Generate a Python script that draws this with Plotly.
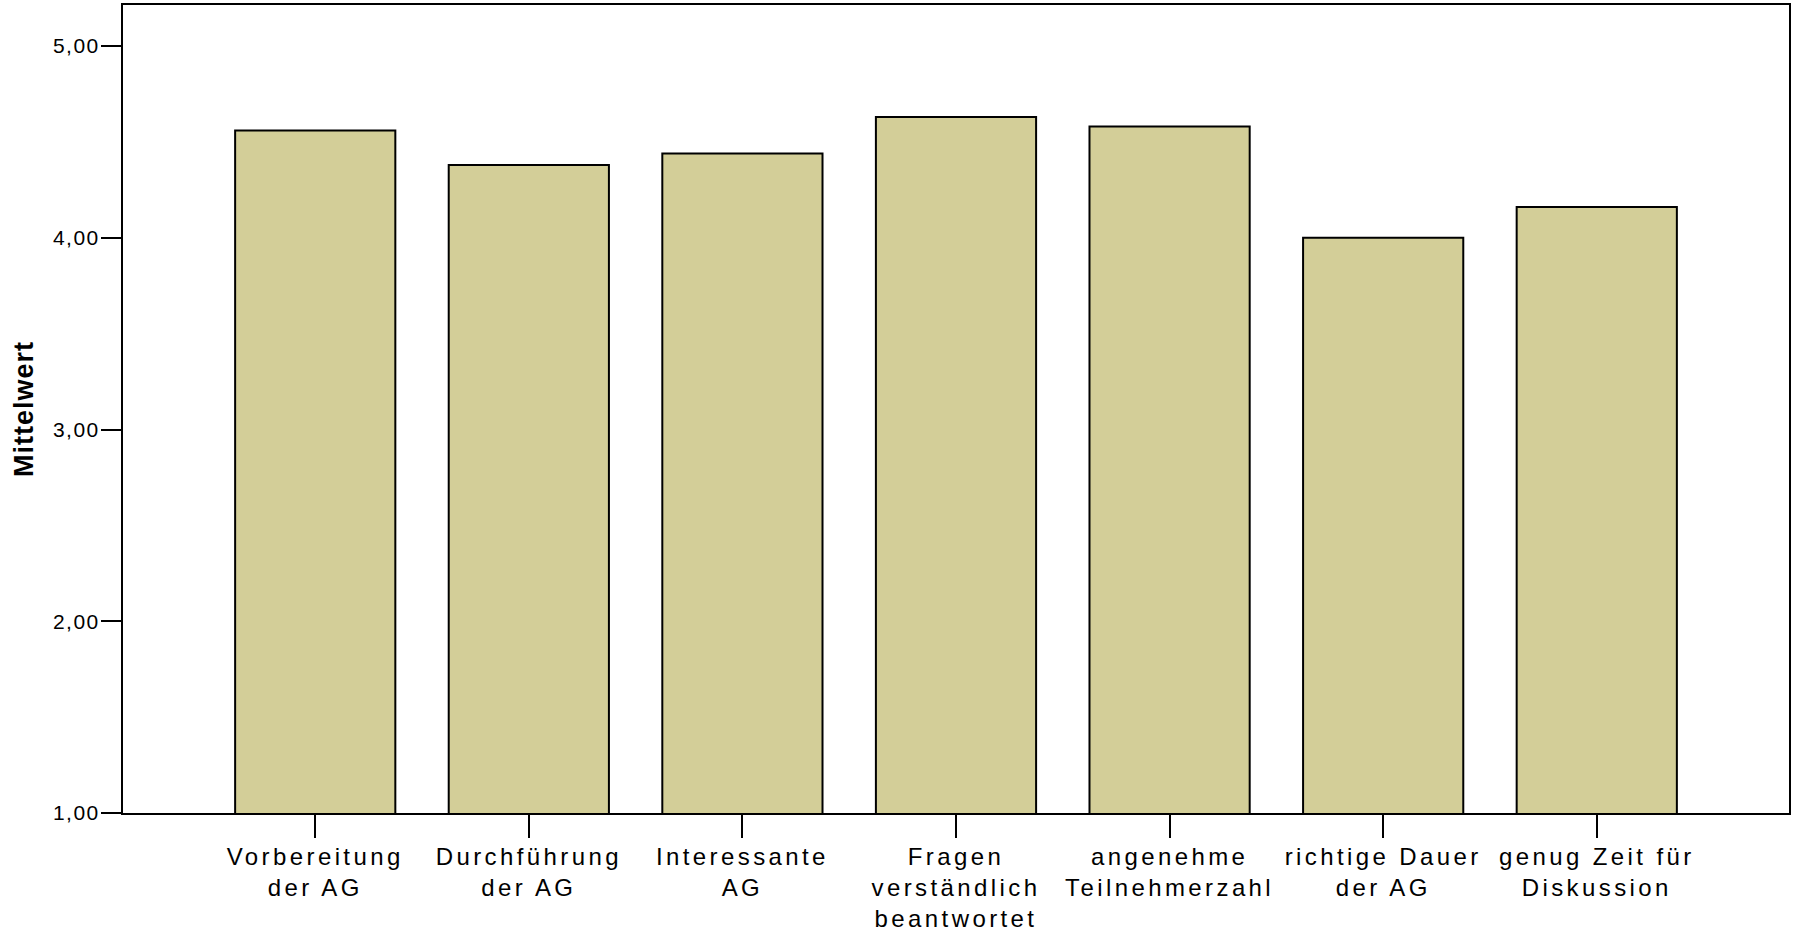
import plotly.graph_objects as go

categories = [
    "Vorbereitung<br>der AG",
    "Durchführung<br>der AG",
    "Interessante<br>AG",
    "Fragen<br>verständlich<br>beantwortet",
    "angenehme<br>Teilnehmerzahl",
    "richtige Dauer<br>der AG",
    "genug Zeit für<br>Diskussion",
]
mittelwert = [4.56, 4.38, 4.44, 4.63, 4.58, 4.00, 4.16]
y_ticks = [1, 2, 3, 4, 5]

FONT = "Liberation Sans, Arial, sans-serif"

fig = go.Figure(
    go.Bar(
        x=categories,
        y=mittelwert,
        width=0.75,
        marker=dict(color="#D3CE98", line=dict(color="black", width=2)),
        hoverinfo="skip",
    )
)

fig.update_layout(
    width=1799,
    height=932,
    autosize=False,
    margin=dict(l=123, r=10, t=5, b=119, autoexpand=False),
    paper_bgcolor="white",
    plot_bgcolor="white",
    separators=",.",
    showlegend=False,
    font=dict(family=FONT, color="black"),
)

fig.update_xaxes(
    type="category",
    range=[-0.9, 6.9],
    automargin=False,
    showline=True,
    mirror=True,
    linecolor="black",
    linewidth=2,
    ticks="outside",
    ticklen=23,
    tickwidth=2,
    tickcolor="black",
    ticklabelstandoff=-2,
    showgrid=False,
    tickfont=dict(family=FONT, size=24, color="black"),
)

fig.update_yaxes(
    range=[1, 5.214],
    tickvals=y_ticks,
    tickformat=".2f",
    automargin=False,
    showline=True,
    mirror=True,
    linecolor="black",
    linewidth=2,
    ticks="outside",
    ticklen=20,
    tickwidth=2,
    tickcolor="black",
    ticklabelstandoff=-3,
    showgrid=False,
    zeroline=False,
    tickfont=dict(family=FONT, size=21, color="black"),
    title=dict(text="<b>Mittelwert</b>", font=dict(family=FONT, size=27, color="black"), standoff=17),
)

post = """
document.body.style.margin='0';
var gd = document.getElementById('{plot_id}');
gd.querySelectorAll('.xtick text').forEach(function(t){t.style.letterSpacing='3.4px';});
gd.querySelectorAll('.ytick text').forEach(function(t){t.style.letterSpacing='1.5px';});
gd.querySelectorAll('.ytitle').forEach(function(t){t.style.letterSpacing='1px';});
"""

fig.write_html("out.html", post_script=post, config={"displayModeBar": False})
